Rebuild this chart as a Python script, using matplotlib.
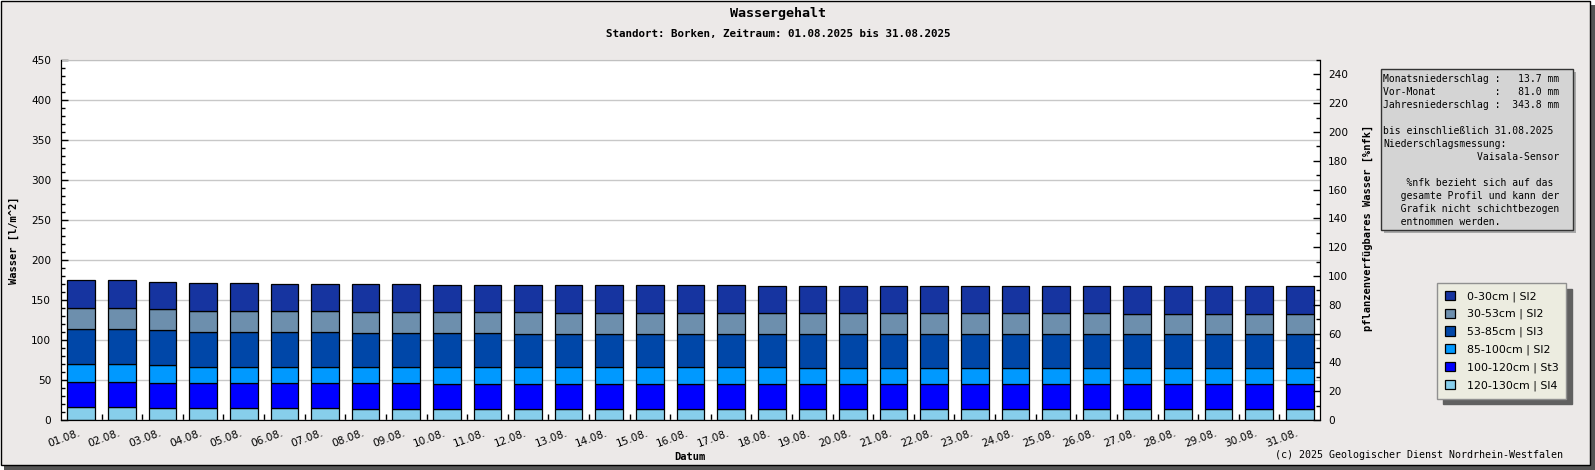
import matplotlib

matplotlib.use("Agg")
import matplotlib.pyplot as plt
import matplotlib.transforms as mtransforms
from matplotlib.patches import Rectangle
from matplotlib.ticker import MultipleLocator, FixedLocator

W, H = 1595, 470
MONO = "DejaVu Sans Mono"

days = [f"{d:02d}.08." for d in range(1, 32)]

# Schichten von oben (0-30cm) nach unten (120-130cm), Werte in l/m^2
layers = ["0-30cm | Sl2", "30-53cm | Sl2", "53-85cm | Sl3",
          "85-100cm | Sl2", "100-120cm | St3", "120-130cm | Sl4"]
colors = ["#1634a0", "#6d8fad", "#0047a8", "#0099ff", "#0000ff", "#87ceeb"]

l_0_30 = [35.0, 35.0, 33.8, 35.0, 35.0, 33.8, 33.8, 35.0, 35.0, 33.7, 33.7, 33.7] \
    + [35.0] * 5 + [33.8] * 9 + [34.6] * 5
l_30_53 = [26.3, 26.3, 26.2, 26.2, 26.2, 26.2, 26.2, 26.3, 26.3, 26.3, 26.3, 27.5] \
    + [26.2] * 14 + [25.4] * 5
l_53_85 = [43.7, 43.7, 43.8, 43.8, 43.8, 43.8, 43.8] + [42.5] * 4 + [41.3] * 7 + [42.5] * 13
l_85_100 = [22.5, 22.5, 22.5] + [20.0] * 6 + [21.2] * 9 + [20.0] * 13
l_100_120 = [31.3, 31.3, 31.2, 31.2, 31.2, 31.2, 31.2, 31.6, 31.6] + [30.4] * 22
l_120_130 = [15.8, 15.8] + [14.6] * 5 + [14.2] * 24

values = [l_0_30, l_30_53, l_53_85, l_85_100, l_100_120, l_120_130]

info_lines = [
    "Monatsniederschlag :   13.7 mm",
    "Vor-Monat          :   81.0 mm",
    "Jahresniederschlag :  343.8 mm",
    "",
    "bis einschließlich 31.08.2025",
    "Niederschlagsmessung:",
    "                Vaisala-Sensor",
    "",
    "    %nfk bezieht sich auf das",
    "   gesamte Profil und kann der",
    "   Grafik nicht schichtbezogen",
    "   entnommen werden.",
]


def fx(x):
    return x / W


def fy(y):
    return 1 - y / H


def box(x0, y0, x1, y1, **kw):
    # rectangle in pixel coords (y from top)
    fig.add_artist(Rectangle((fx(x0), fy(y1)), (x1 - x0) / W, (y1 - y0) / H,
                             transform=fig.transFigure, **kw))


fig = plt.figure(figsize=(W / 100, H / 100), dpi=100, facecolor="white")

# ---- frame with shadow -----------------------------------------------------
box(4, 5, 1595, 470, facecolor="#555555", edgecolor="none", zorder=0)
box(0.5, 0.5, 1590, 465, facecolor="#ece9e8", edgecolor="black", lw=1, zorder=0)

# ---- plot ------------------------------------------------------------------
ax = fig.add_axes([fx(61), fy(420), (1320 - 61) / W, 360 / H])
ax.set_facecolor("white")
ax.set_axisbelow(True)

x = list(range(len(days)))
bottom = [0.0] * len(days)
for name, col, vals in reversed(list(zip(layers, colors, values))):
    ax.bar(x, vals, width=0.68, bottom=bottom, color=col, edgecolor="black",
           linewidth=0.9, label=name)
    bottom = [b + v for b, v in zip(bottom, vals)]

ax.set_xlim(-0.5, len(days) - 0.5)
ax.set_ylim(0, 450)
ax.yaxis.set_major_locator(MultipleLocator(50))
ax.yaxis.set_minor_locator(MultipleLocator(10))
ax.grid(axis="y", which="major", color="#c8c8c8", lw=1)
ax.set_xticks(x)
ax.set_xticklabels(days, rotation=20, ha="right", fontsize=7.6)
shift = mtransforms.ScaledTranslation(-4 / 100, 0, fig.dpi_scale_trans)
for lbl in ax.get_xticklabels():
    lbl.set_transform(lbl.get_transform() + shift)
ax.xaxis.set_minor_locator(FixedLocator([i + 0.5 for i in x[:-1]]))
ax.tick_params(axis="x", which="major", length=0, pad=6)
ax.tick_params(axis="x", which="minor", direction="in", length=4, width=1)
ax.tick_params(axis="y", which="major", direction="in", length=5, width=1,
               labelsize=7.6, pad=7)
ax.tick_params(axis="y", which="minor", direction="in", length=2.7, width=1)
ax.spines["top"].set_color("#c0c0c0")

ax2 = ax.twinx()
ax2.set_ylim(0, 250)
ax2.set_yticks(range(0, 241, 20))
ax2.yaxis.set_minor_locator(MultipleLocator(10))
ax2.tick_params(axis="y", which="major", direction="in", length=5, width=1,
                labelsize=7.6, pad=6)
ax2.tick_params(axis="y", which="minor", direction="in", length=2.7, width=1)
ax2.spines["top"].set_visible(False)

# ---- texts -----------------------------------------------------------------
fig.text(fx(778), fy(14), "Wassergehalt", ha="center", va="center",
         fontsize=9.6, fontweight="bold", family=MONO)
fig.text(fx(778), fy(34), "Standort: Borken, Zeitraum: 01.08.2025 bis 31.08.2025",
         ha="center", va="center", fontsize=7.8, fontweight="bold", family=MONO)
fig.text(fx(14), fy(240), "Wasser [l/m^2]", rotation=90, ha="center", va="center",
         fontsize=7.5, fontweight="bold", family=MONO)
fig.text(fx(1368), fy(228), "pflanzenverfügbares Wasser [%nfk]", rotation=90,
         ha="center", va="center", fontsize=7.5, fontweight="bold", family=MONO)
fig.text(fx(690), fy(457), "Datum", ha="center", va="center",
         fontsize=7.5, fontweight="bold", family=MONO)
fig.text(fx(1563), fy(455), "(c) 2025 Geologischer Dienst Nordrhein-Westfalen",
         ha="right", va="center", fontsize=7.2, family=MONO)

# ---- info box --------------------------------------------------------------
box(1384, 72, 1576, 233, facecolor="#a8a8a8", edgecolor="none", zorder=2)
box(1381, 69, 1573, 230, facecolor="#d4d4d4", edgecolor="#333333", lw=1, zorder=3)
for i, line in enumerate(info_lines):
    fig.text(fx(1383), fy(79 + 13 * i), line, ha="left", va="center",
             fontsize=7, family=MONO, zorder=4)

# ---- legend ----------------------------------------------------------------
handles, labels = ax.get_legend_handles_labels()
leg = fig.legend(handles[::-1], labels[::-1], loc="upper left",
                 bbox_to_anchor=(fx(1437), fy(283)), borderaxespad=0,
                 fontsize=7.9, frameon=True, fancybox=False,
                 handlelength=0.9, handleheight=0.9, handletextpad=1.1,
                 labelspacing=0.64, borderpad=0.7,
                 shadow={"color": "#606060", "alpha": 1, "ox": 4, "oy": -4})
leg.get_frame().set_facecolor("#ecece0")
leg.get_frame().set_edgecolor("#909090")
leg.get_frame().set_linewidth(1)
leg.get_frame().set_alpha(1)

fig.savefig("out.png", dpi=100, facecolor="white")
